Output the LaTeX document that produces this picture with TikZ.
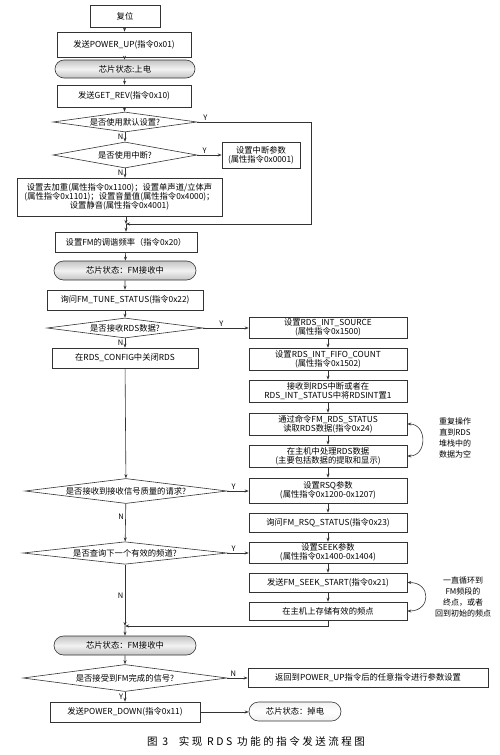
\documentclass[tikz,border=0pt]{standalone}
\usepackage{fontspec}
\setmainfont{Noto Sans CJK SC}
\newfontfamily\capfont[LetterSpace=24]{Noto Sans CJK SC}
\usetikzlibrary{arrows.meta,shapes.geometric,shapes.misc}
\definecolor{linegray}{HTML}{333333}
\definecolor{stategray}{HTML}{c4c4c4}
\definecolor{statelight}{HTML}{f2f2f2}

\begin{document}
\begin{tikzpicture}[
    x=1pt, y=-1pt,
    font=\fontsize{8.3}{9.2}\selectfont,
    box/.style={rectangle, draw=linegray, line width=0.6pt, fill=white, align=center, inner sep=1pt, minimum height=20pt},
    state/.style={rounded rectangle, draw=linegray, line width=0.6pt, top color=stategray, bottom color=stategray, middle color=statelight, minimum height=19pt, inner sep=1pt},
    decide/.style={diamond, draw=linegray, line width=0.6pt, fill=white, aspect=7, inner sep=0pt, align=center},
    lbl/.style={font=\fontsize{7.5}{9}\selectfont, inner sep=1.5pt},
    note/.style={align=center, font=\fontsize{8}{11}\selectfont},
    fl/.style={-{Stealth[length=4pt, width=3pt]}, line width=0.6pt, draw=linegray},
    loopfl/.style={{Stealth[length=4pt, width=3pt]}-{Stealth[length=4pt, width=3pt]}, line width=0.6pt, draw=linegray}
  ]
  \useasboundingbox (0,0) rectangle (500,755);

  % main column
  \node[box, minimum width=70pt, minimum height=22pt] (reset) at (125,16) {复位};
  \node[box, minimum width=134pt, minimum height=25pt] (pwrup) at (124,44.5) {发送POWER\_UP(指令0x01)};
  \node[state, minimum width=142pt, minimum height=18pt] (stup) at (125,69) {芯片状态:上电};
  \node[box, minimum width=134pt, minimum height=22pt] (getrev) at (124,96) {发送GET\_REV(指令0x10)};
  \node[decide, minimum width=144pt, minimum height=20pt] (qdef) at (125,122) {是否使用默认设置?};
  \node[decide, minimum width=144pt, minimum height=26pt] (qint) at (125,155) {是否使用中断?};
  \node[box, minimum width=78pt, minimum height=26pt] (intpar) at (261,155) {设置中断参数\\(属性指令0x0001)};
  \node[box, minimum width=205pt, minimum height=38pt] (audio) at (119.5,197) {设置去加重(属性指令0x1100)；设置单声道/立体声\\(属性指令0x1101)；设置音量值(属性指令0x4000)；\\设置静音(属性指令0x4001)};
  \coordinate (join1) at (126,224);
  \node[box, minimum width=142pt] (tune) at (126,242) {设置FM的调谐频率（指令0x20）};
  \node[state, minimum width=144pt] (rxon) at (125,270.5) {芯片状态：FM接收中};
  \node[box, minimum width=156pt] (tunest) at (125,300) {询问FM\_TUNE\_STATUS(指令0x22)};
  \node[decide, minimum width=156pt, minimum height=20pt] (qrds) at (125,328) {是否接收RDS数据?};
  \node[box, minimum width=146pt] (rdsoff) at (125,358) {在RDS\_CONFIG中关闭RDS};
  \node[decide, minimum width=202pt, minimum height=25pt] (qrsq) at (126,491) {是否接收到接收信号质量的请求?};
  \node[decide, minimum width=204pt, minimum height=22pt] (qseek) at (125,553) {是否查询下一个有效的频道?};
  \coordinate (join2) at (125,626);
  \node[state, minimum width=144pt] (rxon2) at (125,645.5) {芯片状态：FM接收中};
  \node[decide, minimum width=204pt, minimum height=27pt] (qdone) at (125,678) {是否接受到FM完成的信号?};
  \node[box, minimum width=150pt] (pdown) at (125,712) {发送POWER\_DOWN(指令0x11)};

  % right column
  \node[box, minimum width=158pt, minimum height=21pt] (src) at (328,327.5) {设置RDS\_INT\_SOURCE\\(属性指令0x1500)};
  \node[box, minimum width=158pt, minimum height=22pt] (fifo) at (328,359) {设置RDS\_INT\_FIFO\_COUNT\\(属性指令0x1502)};
  \node[box, minimum width=158pt, minimum height=22pt] (rdsint) at (328,391) {接收到RDS中断或者在\\RDS\_INT\_STATUS中将RDSINT置1};
  \node[box, minimum width=158pt, minimum height=22pt] (rdsread) at (328,424) {通过命令FM\_RDS\_STATUS\\读取RDS数据(指令0x24)};
  \node[box, minimum width=158pt, minimum height=22pt] (rdsproc) at (328,456) {在主机中处理RDS数据\\(主要包括数据的提取和显示)};
  \node[box, minimum width=158pt, minimum height=25pt] (rsq) at (328,490.5) {设置RSQ参数\\(属性指令0x1200-0x1207)};
  \node[box, minimum width=158pt, minimum height=19pt] (rsqst) at (328,522.5) {询问FM\_RSQ\_STATUS(指令0x23)};
  \node[box, minimum width=158pt, minimum height=21pt] (seek) at (328,552.5) {设置SEEK参数\\(属性指令0x1400-0x1404)};
  \node[box, minimum width=158pt, minimum height=19pt] (seekst) at (328,582.5) {发送FM\_SEEK\_START(指令0x21)};
  \node[box, minimum width=158pt, minimum height=18pt] (store) at (328,611) {在主机上存储有效的频点};
  \node[box, minimum width=240pt, minimum height=19pt] (back) at (368,677.5) {返回到POWER\_UP指令后的任意指令进行参数设置};
  \node[state, minimum width=94pt, top color=statelight, bottom color=statelight, middle color=white] (off) at (295,711.5) {芯片状态：掉电};

  \node[note] (rdsnote) at (455,438) {重复操作\\直到RDS\\堆栈中的\\数据为空};
  \node[note] (seeknote) at (463,597) {一直循环到\\FM频段的\\终点，或者\\回到初始的频点};

  \node[font=\capfont\fontsize{10.5}{12}\selectfont] (cap) at (256,741) {图 3\quad 实现 RDS 功能的指令发送流程图};

  % connectors
  \draw[fl] (reset) -- (pwrup);
  \draw[fl] (pwrup) -- (stup);
  \draw[fl] (stup) -- (getrev);
  \draw[fl] (getrev) -- (qdef);
  \draw[fl] (qdef) -- node[lbl, left] {N} (qint);
  \draw[fl] (qdef.east) -- node[lbl, above, pos=0.07] {Y} ++(114,0) |- (join1);
  \draw[fl] (qint.east) -- node[lbl, above, pos=0.3] {Y} (intpar.west);
  \draw[fl] (qint.south) -- node[lbl, left] {N} (qint.south |- audio.north);
  \draw[fl] (audio.south -| join1) -- (join1);
  \draw[fl] (join1) -- (tune);
  \draw[fl] (tune) -- (rxon);
  \draw[fl] (rxon) -- (tunest);
  \draw[fl] (tunest) -- (qrds);
  \draw[fl] (qrds) -- node[lbl, left] {N} (rdsoff);
  \draw[fl] (qrds.east) -- node[lbl, above, pos=0.4] {Y} (qrds.east -| src.west);
  \draw[fl] (rdsoff) -- (qrsq);
  \draw[fl] (qrsq.east) -- node[lbl, above, pos=0.3] {Y} (qrsq.east -| rsq.west);
  \draw[fl] (qrsq) -- node[lbl, left, pos=0.35] {N} (qseek);
  \draw[fl] (qseek.east) -- node[lbl, above, pos=0.3] {Y} (qseek.east -| seek.west);
  \draw[fl] (qseek) -- node[lbl, left] {N} (join2);
  \draw[fl] (join2) -- (rxon2);
  \draw[fl] (rxon2) -- (qdone);
  \draw[fl] (qdone.east) -- node[lbl, above, pos=0.3] {N} (qdone.east -| back.west);
  \draw[fl] (qdone) -- node[lbl, left] {Y} (pdown);
  \draw[fl] (pdown.east) -- (pdown.east -| off.west);

  \draw[fl] (src) -- (fifo);
  \draw[fl] (fifo) -- (rdsint);
  \draw[fl] (rdsint) -- (rdsread);
  \draw[fl] (rdsread) -- (rdsproc);
  \draw[fl] (rdsproc) -- (rsq);
  \draw[fl] (rsq) -- (rsqst);
  \draw[fl] (rsqst) -- (seek);
  \draw[fl] (seek) -- (seekst);
  \draw[fl] (seekst) -- (store);
  \draw[fl] (store.south) |- (join2);

  \draw[loopfl] (rdsproc.east) .. controls +(20,0) and +(20,0) .. (rdsread.east);
  \draw[loopfl] (store.east) .. controls +(24,0) and +(24,0) .. (seekst.east);
\end{tikzpicture}
\end{document}
